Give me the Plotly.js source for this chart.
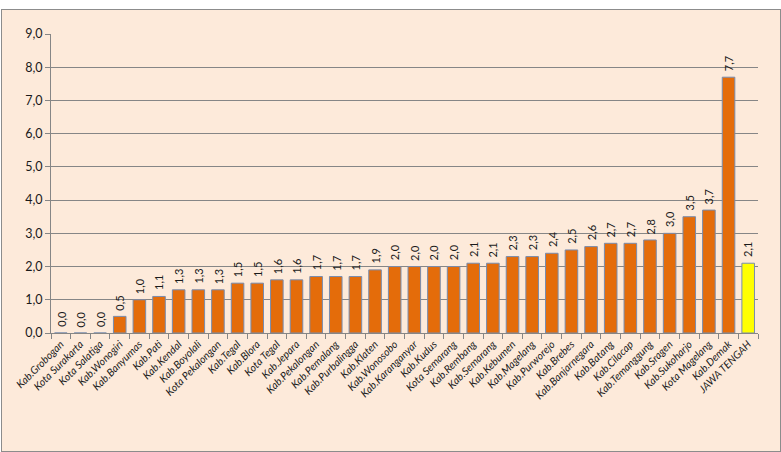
<!DOCTYPE html>
<html>
<head>
<meta charset="utf-8">
<script src="https://cdn.plot.ly/plotly-3.0.1.min.js"></script>
<style>
  html, body { margin: 0; padding: 0; background: #ffffff; }
  #frame {
    position: absolute; left: 1px; top: 9px;
    width: 778px; height: 441px;
    border: 1px solid #8c8c8c;
    background: #FDEADA;
  }
  #chart { width: 778px; height: 441px; }
</style>
</head>
<body>
<div id="frame"><div id="chart"></div></div>
<script>
// Kabupaten / kota in Jawa Tengah, sorted by value, provincial total last
const regions = [
  "Kab.Grobogan", "Kota Surakarta", "Kota Salatiga", "Kab.Wonogiri", "Kab.Banyumas",
  "Kab.Pati", "Kab.Kendal", "Kab.Boyolali", "Kota Pekalongan", "Kab.Tegal",
  "Kab.Blora", "Kota Tegal", "Kab.Jepara", "Kab.Pekalongan", "Kab.Pemalang",
  "Kab.Purbalingga", "Kab.Klaten", "Kab.Wonosobo", "Kab.Karanganyar", "Kab.Kudus",
  "Kota Semarang", "Kab.Rembang", "Kab.Semarang", "Kab.Kebumen", "Kab.Magelang",
  "Kab.Purworejo", "Kab.Brebes", "Kab.Banjarnegara", "Kab.Batang", "Kab.Cilacap",
  "Kab.Temanggung", "Kab.Sragen", "Kab.Sukoharjo", "Kota Magelang", "Kab.Demak",
  "JAWA TENGAH"
];
const values = [
  0.0, 0.0, 0.0, 0.5, 1.0,
  1.1, 1.3, 1.3, 1.3, 1.5,
  1.5, 1.6, 1.6, 1.7, 1.7,
  1.7, 1.9, 2.0, 2.0, 2.0,
  2.0, 2.1, 2.1, 2.3, 2.3,
  2.4, 2.5, 2.6, 2.7, 2.7,
  2.8, 3.0, 3.5, 3.7, 7.7,
  2.1
];
const yTicks = [0, 1, 2, 3, 4, 5, 6, 7, 8, 9];

const FONT = "Lato, 'Open Sans', sans-serif";
const barColors = regions.map(r => r === "JAWA TENGAH" ? "#FFFF00" : "#E46C0A");

const trace = {
  type: "bar",
  x: regions,
  y: values,
  marker: { color: barColors, line: { color: "rgb(120,140,175)", width: 1 } },
  hoverinfo: "x+y"
};

// value labels standing upright above each bar
const valueLabels = regions.map((r, i) => ({
  x: r,
  y: values[i],
  xref: "x",
  yref: "y",
  text: values[i].toFixed(1).replace(".", ","),
  textangle: -90,
  showarrow: false,
  xanchor: "center",
  yanchor: "bottom",
  yshift: 4,
  font: { family: FONT, size: 11, color: "#1a1a1a" }
}));

const layout = {
  width: 778,
  height: 441,
  margin: { l: 49, r: 22, t: 24, b: 118 },
  paper_bgcolor: "rgba(0,0,0,0)",
  plot_bgcolor: "rgba(0,0,0,0)",
  separators: ",.",
  bargap: 0.36,
  showlegend: false,
  font: { family: FONT, color: "#1a1a1a" },
  annotations: valueLabels,
  xaxis: {
    type: "category",
    tickangle: -45,
    tickfont: { family: FONT, size: 10.5, style: "italic", color: "#1a1a1a" },
    tickson: "boundaries",
    ticks: "outside",
    ticklen: 5,
    tickcolor: "#868686",
    showline: true,
    linecolor: "#868686",
    linewidth: 1,
    showgrid: false
  },
  yaxis: {
    range: [0, 9],
    tickvals: yTicks,
    tickformat: ".1f",
    tickfont: { family: FONT, size: 12.5, color: "#1a1a1a" },
    ticks: "outside",
    ticklen: 5,
    tickcolor: "#868686",
    showline: true,
    linecolor: "#868686",
    linewidth: 1,
    showgrid: true,
    gridcolor: "#868686",
    gridwidth: 1,
    zeroline: false
  }
};

Plotly.newPlot("chart", [trace], layout, { displayModeBar: false, staticPlot: true });
</script>
</body>
</html>
